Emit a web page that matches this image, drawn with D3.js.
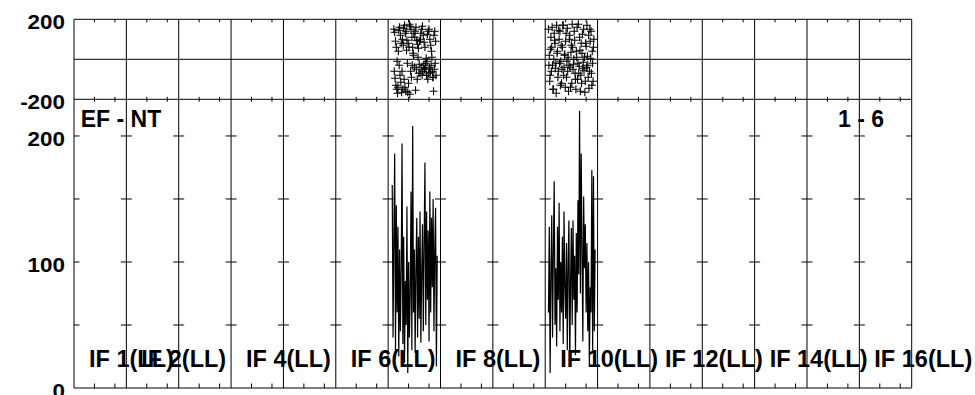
<!DOCTYPE html>
<html><head><meta charset="utf-8">
<script src="https://cdn.jsdelivr.net/npm/d3@7"></script>
<style>
html,body{margin:0;padding:0;background:#fff;}
svg{display:block;}
text{font-family:"Liberation Sans",Arial,Helvetica,sans-serif;font-weight:bold;fill:#000;}
</style></head>
<body>
<svg id="chart" width="975" height="395"></svg>
<script>
// ---- data ----
const nIF = 16;
const chanPerIF = 64;
const minorTickChans = [25, 50];
const ifLabelNums = [1, 2, 4, 6, 8, 10, 12, 14, 16];
const ifLabels = ["IF 1(LL)", "IF 2(LL)", "IF 4(LL)", "IF 6(LL)", "IF 8(LL)", "IF 10(LL)", "IF 12(LL)", "IF 14(LL)", "IF 16(LL)"];
const phaseTicks = [-200, 0, 200];
const phaseLabelTicks = [200, -200];
const ampLabelTicks = [0, 100, 200];
const ampMarkTicks = [50, 100, 150, 200];
const titleLeft = "EF - NT";
const titleRight = "1 - 6";

// IF 7 (channels start 389)
const if7AmpStart = 389;
const if7Amp = [161,40,120,186,30,145,60,128,25,110,45,95,194,35,120,20,85,50,144,12,100,40,75,156,30,208,60,110,28,95,135,40,120,55,140,36,90,130,45,115,179,50,140,70,125,37,156,60,135,80,150,45,110,143,17,105];
const if7PhaseStart = 391;
const if7PhaseA = [150,135,90,60,-10,-140,145,160,120,80,-60,-150,155,170,130,140,95,-165,-120,175,165,150,110,60,20,-40,140,160,95,75,55,-25,-70,130,150,165,120,85,60,-45,-80,125,140,150,100,70,40,-60,-90,120,140,90];
const if7PhaseB = [-60,-95,-130,-150,-170,40,-30,-80,-115,-165,100,70,-100,-140,-160,45,-20,80,60,-175,-60,-90,-30,30,130,110,-155,-50,-100,10,-70,90,100,-40,-80,-60,-30,-50,-20,5,-10,-100,-70,-40,-65,-30,10,-90,-160,-50,-20,-80];

// IF 10 (channels start 580)
const if10AmpStart = 580;
const if10Amp = [60,128,12,90,137,40,110,164,50,95,33,128,70,147,45,100,60,120,35,140,80,55,115,30,100,133,17,85,127,50,133,70,105,26,123,60,149,90,220,75,186,110,37,152,95,130,60,115,45,100,17,80,60,173,30,168,45,110];
const if10PhaseStart = 580;
const if10PhaseA = [150,20,-80,110,60,-30,-150,130,80,-20,170,40,-60,100,140,-10,-120,60,170,-40,25,90,-90,155,10,-30,120,-140,70,175,-50,0,95,-100,40,160,-20,-70,110,-160,80,30,-45,150,10,-110,65,170,-30,120,-60,90,140,-130,-20,60];
const if10PhaseB = [-30,-110,50,-60,160,-150,0,95,-45,-170,30,-90,145,-20,-130,70,-50,170,-80,20,-140,130,-10,-60,-160,100,-40,35,-120,60,-25,140,-70,-150,10,-100,175,-35,45,-80,-120,125,-15,-55,-165,80,-40,15,-90,-145,150,5,-70,40,-110,100];

// ---- scales ----
const svg = d3.select("#chart");
const X0 = 74, X1 = 911.7;
const x = d3.scaleLinear().domain([0, nIF * chanPerIF]).range([X0, X1]);
const yP = d3.scaleLinear().domain([-200, 200]).range([99.3, 19.3]);
const yA = d3.scaleLinear().domain([0, 229.1]).range([388, 99.3]);

const g = svg.append("g");
const line = (x1, y1, x2, y2) => g.append("line").attr("x1", x1).attr("y1", y1).attr("x2", x2).attr("y2", y2).attr("stroke", "#000").attr("stroke-width", 1);

// vertical grid lines at IF boundaries
const bounds = d3.range(nIF + 1).map(i => i * chanPerIF);
bounds.forEach(c => line(x(c), yP(200), x(c), yA(0)));
// phase panel horizontal lines
phaseTicks.forEach(v => line(X0, yP(v), X1, yP(v)));
// amplitude bottom line
line(X0, yA(0), X1, yA(0));

// minor channel ticks
d3.range(nIF).forEach(i => {
  minorTickChans.forEach(c => {
    const xx = x(i * chanPerIF + c);
    line(xx, yP(200), xx, yP(200) + 3);
    line(xx, yP(-200) - 2.5, xx, yP(-200) + 2.5);
    line(xx, yA(0) - 4.5, xx, yA(0));
  });
});

// amplitude y tick marks at each grid line
ampMarkTicks.forEach(v => {
  bounds.forEach((c, i) => {
    const xx = x(c);
    if (i === 0) line(xx, yA(v), xx + 5.5, yA(v));
    else if (i === bounds.length - 1) line(xx - 5.5, yA(v), xx, yA(v));
    else line(xx - 5.5, yA(v), xx + 5.5, yA(v));
  });
});

// y axis labels via d3 axes
const sx = 1.15;
function styleAxis(sel) {
  sel.select(".domain").remove();
  sel.selectAll(".tick line").remove();
  sel.selectAll(".tick text")
    .attr("x", -9 / sx).attr("dy", 9.5)
    .attr("transform", `scale(${sx},1)`)
    .style("font-size", "19.5px").style("font-weight", "bold")
    .style("font-family", '"Liberation Sans",Arial,sans-serif').attr("fill", "#000");
}
svg.append("g").attr("transform", `translate(${X0},0)`)
  .call(d3.axisLeft(yP).tickValues(phaseLabelTicks).tickSize(0).tickFormat(d => String(d)))
  .call(styleAxis);
svg.append("g").attr("transform", `translate(${X0},0)`)
  .call(d3.axisLeft(yA).tickValues(ampLabelTicks).tickSize(0).tickFormat(d => String(d)))
  .call(styleAxis);

// amplitude lines
const ampLine = d3.line().x(d => x(d.c)).y(d => yA(d.v));
[[if7AmpStart, if7Amp], [if10AmpStart, if10Amp]].forEach(([s, arr]) => {
  const pts = arr.map((v, i) => ({c: s + i, v}));
  svg.append("path").datum(pts).attr("d", ampLine)
    .attr("fill", "none").attr("stroke", "#000").attr("stroke-width", 1.2);
});

// phase crosses
const r = 4;
function drawCrosses(start, arr) {
  svg.append("g").selectAll("path").data(arr).join("path")
    .attr("d", (d, i) => {
      const cx = x(start + i), cy = yP(d);
      return `M${cx - r},${cy}H${cx + r}M${cx},${cy - r}V${cy + r}`;
    })
    .attr("stroke", "#000").attr("stroke-width", 1.1).attr("fill", "none");
}
drawCrosses(if7PhaseStart + 0.0, if7PhaseA);
drawCrosses(if7PhaseStart + 0.5, if7PhaseB);
drawCrosses(if10PhaseStart + 0.0, if10PhaseA);
drawCrosses(if10PhaseStart + 0.5, if10PhaseB);

// titles
svg.append("text").attr("x", 80.7).attr("y", 127).style("font-size", "23px").text(titleLeft);
svg.append("text").attr("x", 838).attr("y", 127).style("font-size", "23px").text(titleRight);

// IF labels
svg.append("g").selectAll("text").data(ifLabelNums).join("text")
  .attr("x", (n) => x((n - 1) * chanPerIF) + 15)
  .attr("y", 366.5)
  .style("font-size", "23.5px")
  .text((n, i) => ifLabels[i]);
</script>
</body></html>
